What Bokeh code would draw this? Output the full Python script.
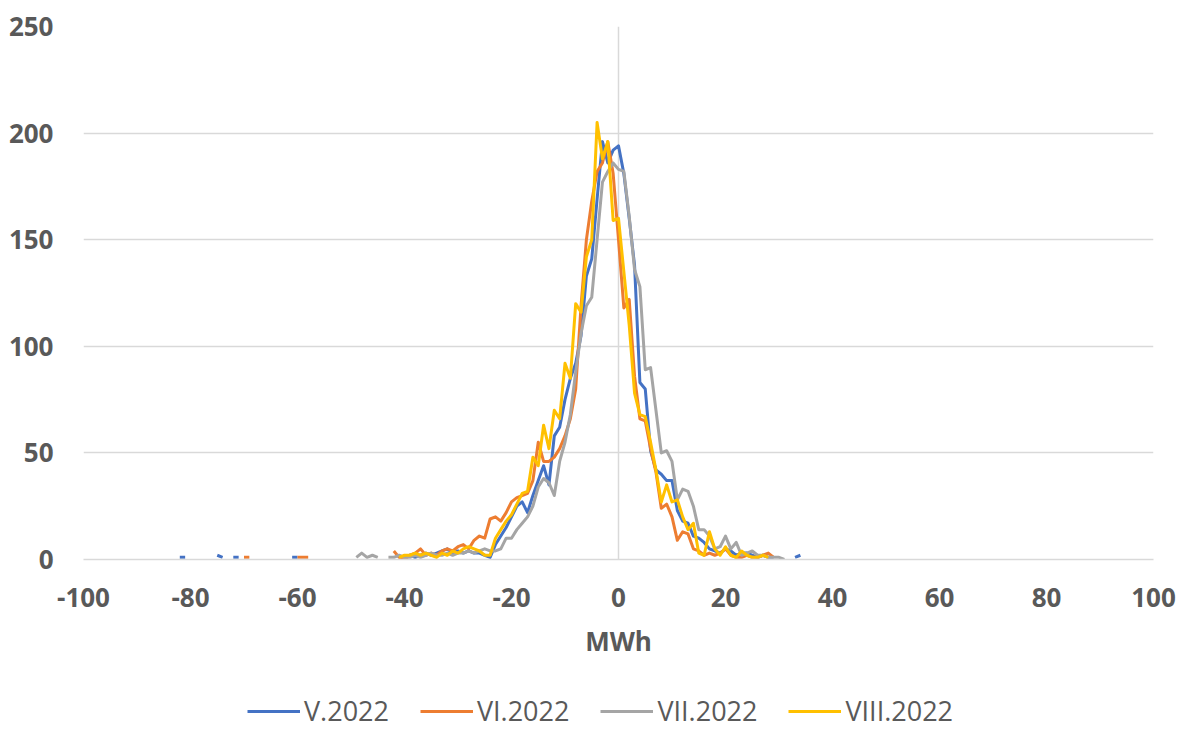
from bokeh.plotting import figure
from bokeh.models import Legend, LegendItem, FixedTicker
from bokeh.layouts import column
from bokeh.embed import file_html
from bokeh.resources import INLINE

N = float("nan")

# bins (MWh)
mwh = list(range(-50, 35))

series_names = ["V.2022", "VI.2022", "VII.2022", "VIII.2022"]
series_colors = ["#4472C4", "#ED7D31", "#A5A5A5", "#FFC000"]

v_may = [N, N, N, N, N, N, N, N, N,
         1, 1, 2, 1, 2, 3, 2, 3, 4, 5, 3, 4, 3, 4, 3, 3, 2, 1, 7, 11, 15, 20, 25, 27, 22, 30,
         37, 44, 35, 58, 62, 75, 85, 92, 105, 133, 141, 169, 196, 186, 192, 194, 181, 160, 138, 83,
         80, 51, 42, 40, 37, 37, 23, 18, 17, 11, 10, 8, 5, 4, 3, 5, 4, 2, 3, 3, 2, 1, 2, 1, 1,
         N, N, N, 1, 2]
v_jun = [N, N, N, N, N, N, N, N,
         4, 1, 0, 2, 3, 5, 2, 3, 2, 4, 5, 4, 6, 7, 5, 9, 11, 10, 19, 20, 18, 22, 27, 29, 30, 31,
         37, 55, 46, 46, 48, 52, 58, 66, 80, 119, 150, 168, 182, 186, 196, 181, 150, 118, 122, 86,
         66, 65, 52, 41, 24, 26, 20, 9, 13, 12, 5, 4, 2, 3, 2, 3, 5, 2, 1, 1, 2, 1, 1, 2, 3, 1,
         N, N, N, N, N]
v_jul = [N, 1, 3, 1, 2, 1, N, 1, 1, 2, 1, 1, 2, 1, 2, 3, 2, 2, 3, 2, 3, 3, 4, 3, 4, 5, 4, 4,
         5, 10, 10, 14, 17, 20, 25, 34, 38, 36, 30, 46, 55, 68, 88, 106, 119, 123, 150, 177, 182,
         186, 183, 182, 161, 136, 128, 89, 90, 70, 50, 51, 46, 28, 33, 32, 25, 14, 14, 11, 5, 6,
         11, 5, 8, 2, 3, 4, 2, 2, 1, 1, 1, 0, N, N, N]
v_aug = [N, N, N, N, N, N, N, N, N,
         1, 2, 2, 3, 2, 3, 2, 1, 3, 2, 4, 3, 5, 6, 5, 4, 2, 2, 10, 14, 18, 21, 26, 31, 32, 48,
         44, 63, 52, 70, 66, 92, 85, 120, 116, 142, 150, 205, 188, 196, 159, 160, 135, 110, 78, 68,
         67, 55, 42, 27, 35, 27, 28, 20, 14, 17, 3, 2, 13, 5, 2, 6, 2, 1, 4, 2, 1, 1, 2, 1,
         N, N, N, N, N, N]

# isolated far-left observations (pairs of neighbouring bins)
tail_may_x = [-82, -81, N, -75, -74, N, -72, -71, N, -61, -60]
tail_may_y = [1, 1, N, 2, 1, N, 1, 1, N, 1, 1]
tail_jun_x = [-70, -69, N, -60, -59, -58]
tail_jun_y = [1, 1, N, 1, 1, 1]

x_ticks = list(range(-100, 101, 20))
y_ticks = list(range(0, 251, 50))

TXT = "#595959"
GRID = "#D9D9D9"
FONT = "Open Sans"
W = 1178
H_MAIN = 691
H_LEG = 38

p = figure(width=W, height=H_MAIN, x_range=(-100, 100), y_range=(0, 250),
           output_backend="svg", toolbar_location=None,
           min_border_left=83, min_border_right=W - 1153, min_border_top=26,
           min_border_bottom=H_MAIN - 559, outline_line_color=None)

p.xaxis.ticker = FixedTicker(ticks=x_ticks)
p.yaxis.ticker = FixedTicker(ticks=y_ticks)
p.xaxis.major_label_overrides = {t: str(t) for t in x_ticks}
p.xgrid.ticker = FixedTicker(ticks=[-100, 0, 100])
p.grid.grid_line_color = GRID
p.grid.grid_line_width = 1.5

for ax in (p.xaxis, p.yaxis):
    ax.major_tick_line_color = None
    ax.minor_tick_line_color = None
    ax.major_label_text_font = FONT
    ax.major_label_text_font_style = "bold"
    ax.major_label_text_font_size = "26px"
    ax.major_label_text_color = TXT
p.yaxis.axis_line_color = None
p.yaxis.major_label_standoff = 24
p.xaxis.axis_line_color = GRID
p.xaxis.axis_line_width = 1.5
p.xaxis.major_label_standoff = 22
p.xaxis.axis_label = "MWh"
p.xaxis.axis_label_text_font = FONT
p.xaxis.axis_label_text_font_style = "bold"
p.xaxis.axis_label_text_font_size = "26px"
p.xaxis.axis_label_text_color = TXT
p.xaxis.axis_label_standoff = 13

values = [v_may, v_jun, v_jul, v_aug]
for name, col, vals in zip(series_names, series_colors, values):
    p.line(mwh, vals, line_color=col, line_width=3, line_join="round")
    if name == "V.2022":
        p.line(tail_may_x, tail_may_y, line_color=col, line_width=3)
    if name == "VI.2022":
        p.line(tail_jun_x, tail_jun_y, line_color=col, line_width=3)

# legend strip below the chart (its frame is aligned with the chart's frame)
lg = figure(width=W, height=H_LEG, x_range=(0, 1), y_range=(0, 1),
            output_backend="svg", toolbar_location=None,
            x_axis_type=None, y_axis_type=None, min_border=0,
            min_border_left=83, min_border_right=W - 1153,
            outline_line_color=None)
lg.grid.visible = False
items = []
for name, col in zip(series_names, series_colors):
    r = lg.line([N], [N], line_color=col, line_width=3)
    items.append(LegendItem(label=name, renderers=[r]))
legend = Legend(items=items, orientation="horizontal", location=(247 - 83, 0),
                label_text_font=FONT, label_text_font_size="27px",
                label_text_color=TXT, glyph_width=53, glyph_height=24,
                label_standoff=4, spacing=31, padding=0, margin=0,
                border_line_color=None, background_fill_alpha=0)
lg.add_layout(legend, "center")

layout = column(p, lg, spacing=0)
open("out.html", "w").write(file_html(layout, INLINE))
